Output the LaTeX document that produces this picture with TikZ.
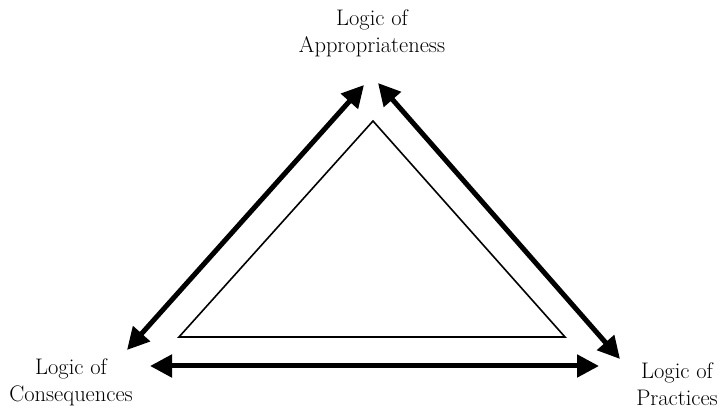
\documentclass[tikz,border=0pt]{standalone}
\usetikzlibrary{arrows.meta}

\begin{document}
\begin{tikzpicture}[x=1pt, y=-1pt, >={Triangle[length=22pt, width=22pt]},
  logic/.style={align=center, font=\fontsize{22.5}{27}\selectfont, inner sep=0pt},
  link/.style={<->, line width=5pt}]

% Frame
\useasboundingbox (0,0) rectangle (724,411);

% Labels
\node[logic] (approp) at (372,33) {Logic of\\Appropriateness};
\node[logic] (conseq) at (71,382) {Logic of\\Consequences};
\node[logic] (pract) at (677,384) {Logic of\\Practices};

% Arrow ends
\coordinate (cl) at (127,350);
\coordinate (at1) at (364,85);
\coordinate (at2) at (378,83);
\coordinate (pr) at (620,359);
\coordinate (hl) at (150,366);
\coordinate (hr) at (599,366);

% Inner triangle
\draw[line width=1.6pt, line join=miter] (373,121) -- (179,337) -- (565,337) -- cycle;

% Connections
\draw[link] (cl) -- (at1);
\draw[link] (at2) -- (pr);
\draw[link] (hl) -- (hr);

\end{tikzpicture}
\end{document}
